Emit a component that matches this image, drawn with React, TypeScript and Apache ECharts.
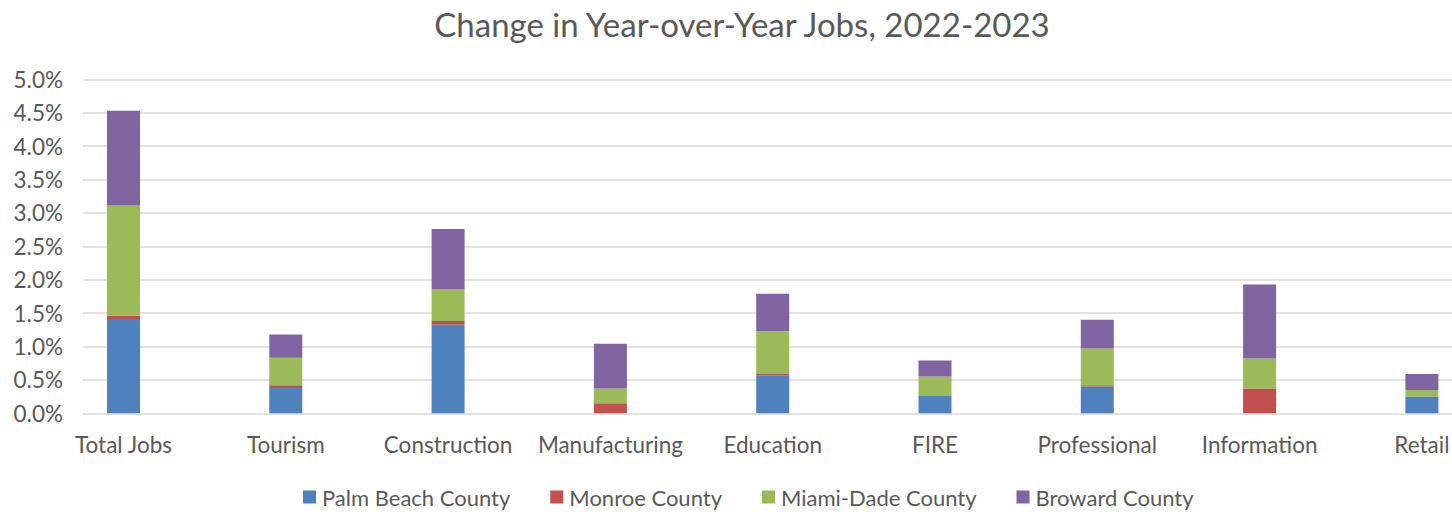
import React, { useEffect, useRef } from "react";
import * as echarts from "echarts";

const categories = ["Total Jobs", "Tourism", "Construction", "Manufacturing", "Education", "FIRE", "Professional", "Information", "Retail"];
const palmBeach = [1.41, 0.38, 1.33, 0, 0.57, 0.26, 0.40, 0, 0.25];
const monroe = [0.05, 0.04, 0.05, 0.15, 0.02, 0, 0.02, 0.37, 0];
const miamiDade = [1.65, 0.41, 0.48, 0.22, 0.64, 0.29, 0.55, 0.45, 0.10];
const broward = [1.42, 0.35, 0.90, 0.67, 0.56, 0.24, 0.43, 1.11, 0.24];
const seriesNames = ["Palm Beach County", "Monroe County", "Miami-Dade County", "Broward County"];
const colors = ["#4f81bd", "#c0504d", "#9bbb59", "#8064a2"];

const FONT = "Lato, 'Noto Sans', sans-serif";
const TXT = "#595959";

export default function App() {
  const ref = useRef<HTMLDivElement>(null);
  useEffect(() => {
    if (!ref.current) return;
    const chart = echarts.init(ref.current, null, { renderer: "svg" });
    const top = 79.3;
    const bottom = 512 - 413.3;
    const catW = 162.3;
    const firstCenter = 123.5;
    const values = [palmBeach, monroe, miamiDade, broward];
    chart.setOption({
      animation: false,
      backgroundColor: "#ffffff",
      textStyle: { fontFamily: FONT },
      graphic: [
        {
          type: "text",
          x: 742,
          y: 24,
          style: {
            text: "Change in Year-over-Year Jobs, 2022-2023",
            font: `33px ${FONT}`,
            fill: TXT,
            align: "center",
            verticalAlign: "middle",
          },
        },
      ],
      legend: {
        left: 303,
        top: 486,
        padding: 0,
        itemWidth: 13,
        itemHeight: 13,
        itemGap: 40,
        icon: "rect",
        data: seriesNames,
        textStyle: { color: TXT, fontSize: 22, fontFamily: FONT, padding: [0, 0, 0, 1] },
      },
      grid: [
        { left: 83, right: 0, top, bottom, outerBoundsMode: "none", containLabel: false },
        { left: firstCenter - catW / 2, width: catW * categories.length, top, bottom, outerBoundsMode: "none", containLabel: false },
      ],
      xAxis: [
        { type: "value", gridIndex: 0, show: false, min: 0, max: 1 },
        {
          type: "category",
          gridIndex: 1,
          data: categories,
          axisLine: { show: false },
          axisTick: { show: false },
          axisLabel: { interval: 0, color: TXT, fontSize: 22.5, fontFamily: FONT, margin: 20 },
        },
      ],
      yAxis: [
        {
          type: "value",
          gridIndex: 0,
          min: 0,
          max: 5,
          interval: 0.5,
          axisLine: { show: false },
          axisTick: { show: false },
          splitLine: { show: true, lineStyle: { color: "#d9d9d9", width: 1.5 } },
          axisLabel: {
            color: TXT,
            fontSize: 22.5,
            fontFamily: FONT,
            margin: 20,
            formatter: (v: number) => v.toFixed(1) + "%",
          },
        },
        { type: "value", gridIndex: 1, min: 0, max: 5, interval: 0.5, show: false, splitLine: { show: false } },
      ],
      series: seriesNames.map((name, i) => ({
        name,
        type: "bar",
        stack: "total",
        xAxisIndex: 1,
        yAxisIndex: 1,
        barWidth: 33,
        data: values[i],
        itemStyle: { color: colors[i] },
      })),
    });
    return () => chart.dispose();
  }, []);
  return <div ref={ref} style={{ position: "fixed", left: 0, top: 0, width: 1452, height: 512 }} />;
}
